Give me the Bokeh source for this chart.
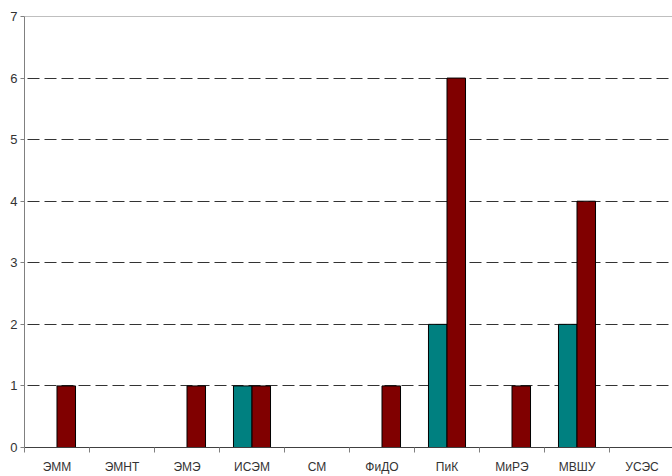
from bokeh.plotting import figure
from bokeh.models import Range1d, FixedTicker, Span, ColumnDataSource
from bokeh.embed import file_html
from bokeh.resources import INLINE

categories = ["ЭММ", "ЭМНТ", "ЭМЭ", "ИСЭМ", "СМ", "ФиДО", "ПиК", "МиРЭ", "МВШУ", "УСЭС"]
series_teal = [0, 0, 0, 1, 0, 0, 2, 0, 2, 0]
series_red = [1, 0, 1, 1, 0, 1, 6, 1, 4, 0]
y_ticks = [0, 1, 2, 3, 4, 5, 6, 7]

W, H = 672, 476
left, top, bottom, right = 24, 16, 29, 0
frame_w = W - left - right
cat_px = 65.0

p = figure(width=W, height=H, output_backend="svg", toolbar_location=None,
           x_range=Range1d(0, frame_w / cat_px), y_range=Range1d(0, 7),
           min_border_left=left, min_border_top=top, min_border_bottom=bottom,
           min_border_right=right)
p.outline_line_color = None
p.background_fill_color = "white"
p.border_fill_color = "white"

centers = [i + 0.5 for i in range(len(categories))]
bw = 0.285
src = ColumnDataSource(dict(
    xt=[c - bw / 2 for c in centers], xr=[c + bw / 2 for c in centers],
    t=series_teal, r=series_red))
p.vbar(x="xt", top="t", width=bw, source=src, fill_color="#008080",
       line_color="#000000", line_width=1)
p.vbar(x="xr", top="r", width=bw, source=src, fill_color="#800000",
       line_color="#000000", line_width=1)

font = "Liberation Sans"

# x axis
xa = p.xaxis[0]
xa.ticker = FixedTicker(ticks=centers, minor_ticks=list(range(0, 11)))
xa.major_label_overrides = {c: n for c, n in zip(centers, categories)}
xa.major_tick_line_color = None
xa.major_tick_out = 0
xa.major_tick_in = 0
xa.minor_tick_out = 5
xa.minor_tick_in = 0
xa.minor_tick_line_color = "#808080"
xa.axis_line_color = "#404040"
xa.major_label_standoff = 7
xa.major_label_text_font = font
xa.major_label_text_font_size = "12px"
xa.major_label_text_color = "#333333"

# y axis
ya = p.yaxis[0]
ya.ticker = FixedTicker(ticks=y_ticks)
ya.minor_tick_line_color = None
ya.major_tick_out = 4
ya.major_tick_in = 0
ya.major_tick_line_color = "#808080"
ya.axis_line_color = "#808080"
ya.major_label_standoff = 3
ya.major_label_text_font = font
ya.major_label_text_font_size = "13px"
ya.major_label_text_color = "#333333"

p.xgrid.grid_line_color = None
p.ygrid.ticker = FixedTicker(ticks=y_ticks[1:-1])
p.ygrid.grid_line_color = "#333333"
p.ygrid.grid_line_dash = "12 5"
p.ygrid.grid_line_dash_offset = -3
p.ygrid.grid_line_width = 1

p.add_layout(Span(location=7, dimension="width", line_color="#808080", line_width=1))

open("out.html", "w").write(file_html(p, INLINE))
